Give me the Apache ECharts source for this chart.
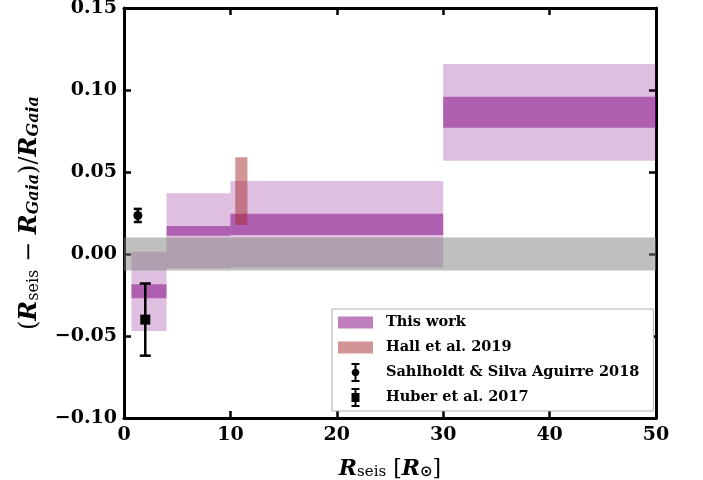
<!DOCTYPE html>
<html>
<head>
<meta charset="utf-8">
<script src="https://cdn.jsdelivr.net/npm/echarts@6/dist/echarts.min.js"></script>
<style>html,body{margin:0;padding:0;background:#fff;}#c{width:703px;height:480px;}</style>
</head>
<body>
<div id="c"></div>
<script>
// ---- data ----
const binLo   = [0.7, 4, 10, 30];
const binHi   = [4, 10, 30, 50];
const outerLo = [-0.047, -0.0087, -0.0083, 0.0569];
const outerHi = [0.0014, 0.0370, 0.0445, 0.1159];
const innerLo = [-0.027, 0.0112, 0.0116, 0.0770];
const innerHi = [-0.0185, 0.0170, 0.0246, 0.0959];
const hallX   = [10.46, 11.6];
const hallY   = [0.0177, 0.059];
const bandX   = [0, 50];
const bandY   = [-0.01, 0.01];
const sahlX = [1.3],  sahlY = [0.0235],  sahlErr = [0.004];
const huberX = [2.0], huberY = [-0.040], huberErr = [0.022];
const xTicks = [0, 10, 20, 30, 40, 50];
const yTicks = [-0.10, -0.05, 0.00, 0.05, 0.10, 0.15];
const legendNames = ['This work', 'Hall et al. 2019', 'Sahlholdt & Silva Aguirre 2018', 'Huber et al. 2017'];

const SERIF = 'DejaVu Serif';
const chart = echarts.init(document.getElementById('c'), null, {renderer: 'canvas'});

function rectItem(color) {
  return function (params, api) {
    const p0 = api.coord([api.value(0), api.value(3)]);
    const p1 = api.coord([api.value(1), api.value(2)]);
    const r = echarts.graphic.clipRectByRect(
      {x: p0[0], y: p0[1], width: p1[0] - p0[0], height: p1[1] - p0[1]},
      params.coordSys);
    if (!r) return;
    return {type: 'rect', shape: r, style: {fill: color}};
  };
}
function errItem(marker, capW, mSize) {
  return function (params, api) {
    const x = api.value(0), y = api.value(1), e = api.value(2);
    const c = api.coord([x, y]);
    const top = api.coord([x, y + e]);
    const bot = api.coord([x, y - e]);
    const st = {stroke: '#000', lineWidth: 2.5};
    const children = [
      {type: 'line', shape: {x1: c[0], y1: top[1], x2: c[0], y2: bot[1]}, style: st},
      {type: 'line', shape: {x1: c[0] - capW / 2, y1: top[1], x2: c[0] + capW / 2, y2: top[1]}, style: st},
      {type: 'line', shape: {x1: c[0] - capW / 2, y1: bot[1], x2: c[0] + capW / 2, y2: bot[1]}, style: st}
    ];
    if (marker === 'circle') {
      children.push({type: 'circle', shape: {cx: c[0], cy: c[1], r: mSize / 2}, style: {fill: '#000'}});
    } else {
      children.push({type: 'rect', shape: {x: c[0] - mSize / 2, y: c[1] - mSize / 2, width: mSize, height: mSize}, style: {fill: '#000'}});
    }
    return {type: 'group', children: children};
  };
}

const outerData = binLo.map((v, i) => [v, binHi[i], outerLo[i], outerHi[i]]);
const innerData = binLo.map((v, i) => [v, binHi[i], innerLo[i], innerHi[i]]);

const axisCommon = {
  axisLine: {show: true, onZero: false, lineStyle: {color: '#000', width: 3}},
  axisTick: {show: true, inside: true, length: 7, lineStyle: {color: '#000', width: 2.5}},
  splitLine: {show: false}
};
const labelStyle = {fontFamily: SERIF, fontWeight: 'bold', fontSize: 19, color: '#000'};

function mkRich(big, small) {
  return {
    R:   {fontFamily: SERIF, fontStyle: 'italic', fontWeight: 'bold', fontSize: big, color: '#000'},
    n:   {fontFamily: SERIF, fontWeight: 'normal', fontSize: big, color: '#000'},
    sub: {fontFamily: SERIF, fontWeight: 'normal', fontSize: small, color: '#000', verticalAlign: 'bottom', lineHeight: 10},
    isub:{fontFamily: SERIF, fontStyle: 'italic', fontWeight: 'bold', fontSize: small, color: '#000', verticalAlign: 'bottom', lineHeight: 10},
    sun: {fontFamily: 'DejaVu Sans', fontWeight: 'bold', fontSize: small, color: '#000', verticalAlign: 'bottom', lineHeight: 10}
  };
}

const sahlIcon = 'path://M0,0H8V2H0Z M3,2H5V17H3Z M0,17H8V19H0Z M4,5.5L6.8,6.7L8,9.5L6.8,12.3L4,13.5L1.2,12.3L0,9.5L1.2,6.7Z';
const huberIcon = 'path://M0,0H8V2H0Z M3,2H5V17H3Z M0,17H8V19H0Z M0,5H8V14H0Z';
const patchIcon = 'path://M0,0H35V12H0Z';

const option = {
  animation: false,
  backgroundColor: '#fff',
  grid: {left: 124, right: 47, top: 8, bottom: 62, containLabel: false, outerBoundsMode: 'none'},
  xAxis: [
    Object.assign({type: 'value', min: 0, max: 50, interval: 10, position: 'bottom',
      axisLabel: Object.assign({margin: 8}, labelStyle),
      name: '{R|R}{sub|seis}{n| [}{R|R}{sun|⊙}{n|]}', nameLocation: 'middle', nameGap: 40,
      nameTextStyle: {rich: mkRich(22, 15)}}, axisCommon),
    Object.assign({type: 'value', min: 0, max: 50, interval: 10, position: 'top',
      axisLabel: {show: false}}, axisCommon)
  ],
  yAxis: [
    Object.assign({type: 'value', min: -0.10, max: 0.15, interval: 0.05, position: 'left',
      axisLabel: Object.assign({margin: 7, formatter: function (v) {
        const r = Math.round(v * 100) / 100;
        return (r < 0 ? '\u2212' : '') + Math.abs(r).toFixed(2);
      }}, labelStyle),
      name: '{n|(}{R|R}{sub|seis}{n| \u2212 }{R|R}{isub|Gaia}{n|)/}{R|R}{isub|Gaia}',
      nameLocation: 'middle', nameGap: 82, nameRotate: 90,
      nameTextStyle: {rich: mkRich(24, 16)}}, axisCommon),
    Object.assign({type: 'value', min: -0.10, max: 0.15, interval: 0.05, position: 'right',
      axisLabel: {show: false}}, axisCommon)
  ],
  legend: {
    orient: 'vertical', left: 332, top: 309,
    padding: [4, 14, 4, 6], itemGap: 6, itemWidth: 35, itemHeight: 19,
    backgroundColor: '#fff', borderColor: '#b0b0b0', borderWidth: 1, borderRadius: 0,
    selectedMode: false,
    textStyle: {fontFamily: SERIF, fontWeight: 'bold', fontSize: 14.5, lineHeight: 19, color: '#000', padding: [0, 0, 0, 8]},
    data: [
      {name: legendNames[0], icon: patchIcon, itemStyle: {color: 'rgba(128,0,128,0.5)'}},
      {name: legendNames[1], icon: patchIcon, itemStyle: {color: 'rgba(165,42,42,0.5)'}},
      {name: legendNames[2], icon: sahlIcon, itemStyle: {color: '#000'}},
      {name: legendNames[3], icon: huberIcon, itemStyle: {color: '#000'}}
    ]
  },
  series: [
    {type: 'custom', name: legendNames[0], renderItem: rectItem('rgba(128,0,128,0.25)'),
      encode: {x: [0, 1], y: [2, 3]}, data: outerData, itemStyle: {color: 'rgba(128,0,128,0.5)'}, z: 2},
    {type: 'custom', name: legendNames[0], renderItem: rectItem('rgba(128,0,128,0.5)'),
      encode: {x: [0, 1], y: [2, 3]}, data: innerData, itemStyle: {color: 'rgba(128,0,128,0.5)'}, z: 3},
    {type: 'custom', name: legendNames[1], renderItem: rectItem('rgba(165,42,42,0.5)'),
      encode: {x: [0, 1], y: [2, 3]}, data: [[hallX[0], hallX[1], hallY[0], hallY[1]]],
      itemStyle: {color: 'rgba(165,42,42,0.5)'}, z: 4},
    {type: 'custom', name: 'band', renderItem: rectItem('rgba(128,128,128,0.5)'),
      encode: {x: [0, 1], y: [2, 3]}, data: [[bandX[0], bandX[1], bandY[0], bandY[1]]], z: 5},
    {type: 'custom', name: legendNames[2], renderItem: errItem('circle', 8, 9),
      encode: {x: 0, y: 1}, data: sahlX.map((v, i) => [v, sahlY[i], sahlErr[i]]),
      itemStyle: {color: '#000'}, z: 6},
    {type: 'custom', name: legendNames[3], renderItem: errItem('square', 11, 10),
      encode: {x: 0, y: 1}, data: huberX.map((v, i) => [v, huberY[i], huberErr[i]]),
      itemStyle: {color: '#000'}, z: 6}
  ]
};
chart.setOption(option);
</script>
</body>
</html>
